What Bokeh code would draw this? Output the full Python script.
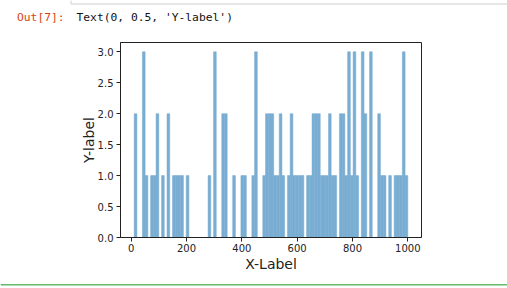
import numpy as np
from bokeh.plotting import figure
from bokeh.layouts import column
from bokeh.models import FixedTicker, PrintfTickFormatter, Range1d
from bokeh.core.properties import value
from bokeh.embed import file_html
from bokeh.resources import INLINE

# ---- data (100 bins) ----
data_min = 11.0
data_max = 1000.0
counts = [2, 0, 0, 3, 1, 0, 1, 1, 2, 0,
          1, 0, 2, 0, 1, 1, 1, 1, 0, 1,
          0, 0, 0, 0, 0, 0, 0, 1, 0, 3,
          0, 0, 2, 2, 0, 0, 1, 0, 0, 1,
          1, 0, 0, 1, 3, 0, 0, 1, 2, 2,
          2, 1, 1, 2, 1, 0, 1, 2, 1, 1,
          1, 1, 0, 1, 1, 2, 2, 2, 1, 1,
          1, 2, 1, 1, 0, 2, 2, 1, 3, 1,
          3, 1, 0, 3, 2, 0, 3, 0, 0, 2,
          1, 1, 0, 1, 0, 1, 1, 1, 3, 1]
x_ticks = [0, 200, 400, 600, 800, 1000]
y_ticks = [0.0, 0.5, 1.0, 1.5, 2.0, 2.5, 3.0]
out_prompt = "Out[7]:"
out_text = "Text(0, 0.5, 'Y-label')"
x_label = "X-Label"
y_label = "Y-label"

edges = np.linspace(data_min, data_max, len(counts) + 1)
span = data_max - data_min
ymax = max(counts)

W = 507
HEAD_H, MAIN_H, FOOT_H = 30, 246, 12
ML, MR, MT, MB = 120, 86, 12, 39


def blank(h):
    f = figure(width=W, height=h, output_backend="svg", toolbar_location=None,
               x_range=Range1d(0, W), y_range=Range1d(h, 0),
               min_border=0, min_border_left=0, min_border_right=0,
               min_border_top=0, min_border_bottom=0)
    f.frame_align = False
    f.axis.visible = False
    f.grid.visible = False
    f.outline_line_color = None
    f.background_fill_color = "white"
    f.border_fill_color = "white"
    return f


# ---- header: notebook output prompt ----
head = blank(HEAD_H)
head.text(x=[16.5], y=[16.7], text=[out_prompt], text_font=value("DejaVu Sans Mono"),
          text_font_size="11.3px", text_color="#d84315", text_baseline="middle",
          text_align="left")
head.text(x=[76], y=[16.7], text=[out_text], text_font=value("DejaVu Sans Mono"),
          text_font_size="11.3px", text_color="#111111", text_baseline="middle",
          text_align="left")
head.segment(x0=[70.5, 70.5], y0=[3.5, 0], x1=[W, 70.5], y1=[3.5, 3.5],
             line_color="#cfcfcf", line_width=1)

# ---- main histogram ----
p = figure(width=W, height=MAIN_H, output_backend="svg", toolbar_location=None,
           x_range=Range1d(data_min - 0.05 * span, data_max + 0.05 * span),
           y_range=Range1d(0, ymax * 1.05),
           min_border_left=ML, min_border_right=MR,
           min_border_top=MT, min_border_bottom=MB)
p.frame_align = False
p.background_fill_color = "white"
p.border_fill_color = "white"
p.outline_line_color = "#222222"
p.outline_line_width = 1
p.grid.visible = False

p.quad(left=edges[:-1], right=edges[1:], bottom=0, top=counts,
       fill_color="#79add2", fill_alpha=1.0,
       line_color="#79add2", line_width=0.5)

for ax in (p.xaxis[0], p.yaxis[0]):
    ax.major_label_text_font = "DejaVu Sans"
    ax.major_label_text_font_size = "10px"
    ax.major_label_text_color = "#222222"
    ax.axis_line_color = "#222222"
    ax.major_tick_line_color = "#222222"
    ax.major_tick_out = 4
    ax.major_tick_in = 0
    ax.minor_tick_line_color = None
    ax.axis_label_text_font = "DejaVu Sans"
    ax.axis_label_text_font_size = "14px"
    ax.axis_label_text_font_style = "normal"
    ax.axis_label_text_color = "#222222"

p.xaxis.ticker = FixedTicker(ticks=x_ticks)
p.xaxis.formatter = PrintfTickFormatter(format="%d")
p.yaxis.ticker = FixedTicker(ticks=y_ticks)
p.yaxis.formatter = PrintfTickFormatter(format="%.1f")
p.xaxis.axis_label = x_label
p.yaxis.axis_label = y_label
p.xaxis.major_label_standoff = 2
p.yaxis.major_label_standoff = 3
p.xaxis.axis_label_standoff = 1
p.yaxis.axis_label_standoff = -2

# ---- footer: current cell border ----
foot = blank(FOOT_H)
foot.segment(x0=[0], y0=[8.2], x1=[W], y1=[8.2], line_color="#66bb6a", line_width=1.5)

layout = column(head, p, foot, spacing=0)
open("out.html", "w").write(file_html(layout, INLINE))
